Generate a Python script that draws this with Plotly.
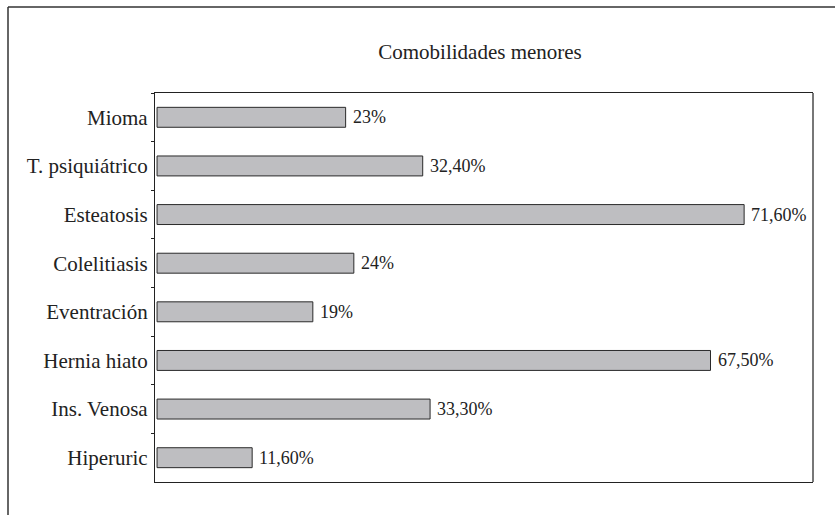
import plotly.graph_objects as go

# Minor comorbidities, percentage of patients
categorias = ["Mioma", "T. psiquiátrico", "Esteatosis", "Colelitiasis",
              "Eventración", "Hernia hiato", "Ins. Venosa", "Hiperuric"]
valores = [23.0, 32.4, 71.6, 24.0, 19.0, 67.5, 33.3, 11.6]
etiquetas = ["23%", "32,40%", "71,60%", "24%", "19%", "67,50%", "33,30%", "11,60%"]
titulo = "Comobilidades menores"

W, H = 835, 515
L, R, T, B = 155, 22, 93, 33
pw, ph = W - L - R, H - T - B

SERIF = "'Liberation Serif', 'Times New Roman', serif"

fig = go.Figure(go.Bar(
    y=categorias,
    x=valores,
    orientation="h",
    marker=dict(color="#bebec1", line=dict(color="#2a2a2a", width=1)),
    hoverinfo="skip",
))

# value labels to the right of each bar
for c, v, t in zip(categorias, valores, etiquetas):
    fig.add_annotation(x=v, y=c, text=t, showarrow=False, xanchor="left",
                       xshift=5, font=dict(family=SERIF, size=18, color="#222"))

shapes = [
    # outer frame (open on the right and bottom)
    dict(type="line", xref="paper", yref="paper",
         x0=(8 - L) / pw, x1=(8 - L) / pw, y0=(H - B - 7) / ph, y1=(H - B - 540) / ph,
         line=dict(color="#333", width=1.5)),
    dict(type="line", xref="paper", yref="paper",
         x0=(8 - L) / pw, x1=(860 - L) / pw, y0=(H - B - 7) / ph, y1=(H - B - 7) / ph,
         line=dict(color="#333", width=1.5)),
    # right edge of the plot frame
    dict(type="line", xref="paper", yref="paper", x0=1, x1=1, y0=0, y1=1,
         line=dict(color="#777", width=2)),
]

fig.update_layout(
    width=W, height=H,
    margin=dict(l=L, r=R, t=T, b=B),
    paper_bgcolor="white", plot_bgcolor="white",
    bargap=0.59,
    showlegend=False,
    shapes=shapes,
    font=dict(family=SERIF),
    title=dict(text=titulo, x=480 / W, xanchor="center",
               y=1 - 52 / H, yanchor="middle",
               font=dict(family=SERIF, size=21, color="#222")),
    xaxis=dict(range=[-0.25, 80], showgrid=False, zeroline=False, showticklabels=False,
               ticks="", showline=True, linecolor="#222", linewidth=1, mirror=True),
    yaxis=dict(autorange="reversed", showgrid=False, zeroline=False,
               showline=True, linecolor="#222", linewidth=1.2, mirror=False,
               ticks="outside", ticklen=3, tickcolor="#222", tickson="boundaries",
               ticklabelstandoff=2,
               tickfont=dict(family=SERIF, size=21, color="#222")),
)

fig.write_html("out.html")
